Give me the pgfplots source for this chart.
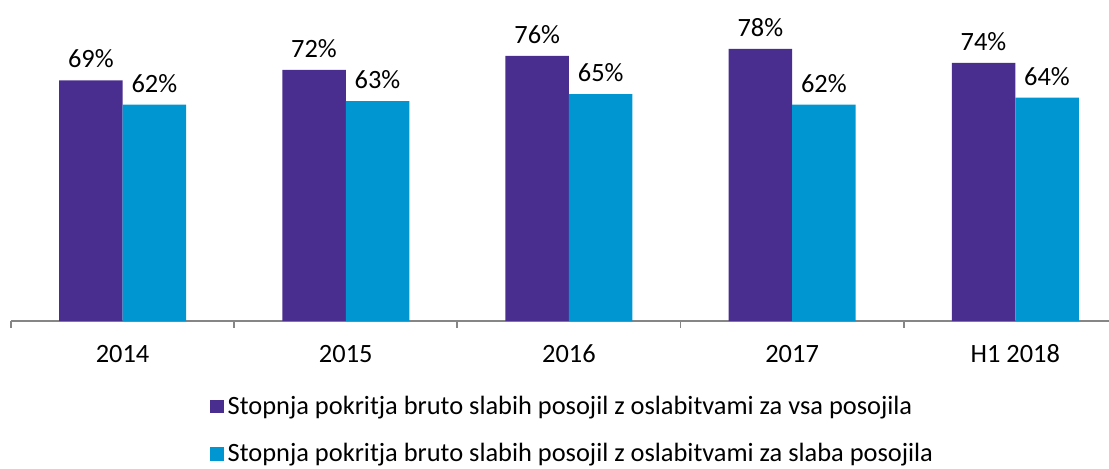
\documentclass[border=0pt]{standalone}
\usepackage{fontspec}
\setmainfont{Carlito}
\usepackage{pgfplots}
\pgfplotsset{compat=1.18}
\definecolor{barpurple}{RGB}{74,46,143}
\definecolor{barcyan}{RGB}{0,150,210}
\definecolor{axisgray}{RGB}{134,134,134}

\pgfplotstableread{
x all weak
0 69 62
1 72 63
2 76 65
3 78 62
4 74 64
}\coverage

\begin{document}
\begin{tikzpicture}
\begin{axis}[
  scale only axis,
  width=549pt, height=160.5pt,
  xmin=-0.5, xmax=4.42,
  ymin=0, ymax=92,
  hide y axis,
  axis x line*=bottom,
  axis line style={axisgray, line width=0.9pt},
  clip=false,
  ybar=0pt,
  bar width=31.75pt,
  xtick={0,1,2,3,4},
  xticklabels={2014,2015,2016,2017,H1 2018},
  major tick length=0pt,
  xticklabel style={font=\fontsize{13.2}{15}\selectfont, anchor=base, yshift=-20.5pt},
  extra x ticks={-0.5,0.5,1.5,2.5,3.5},
  extra x tick labels={},
  extra x tick style={major tick length=3.5pt, tick align=outside,
    tick style={axisgray, line width=0.9pt}},
  /pgf/number format/assume math mode=true,
  nodes near coords={\pgfmathprintnumber{\pgfplotspointmeta}\%},
  every node near coord/.append style={font=\fontsize{13.2}{15}\selectfont, black, yshift=2.5pt},
  legend style={draw=none, fill=none, at={(0.181,-0.22)}, anchor=north west,
    font=\fontsize{13.2}{15}\selectfont, row sep=9pt, inner sep=0pt},
  legend cell align=left,
  legend image code/.code={\fill[#1] (0pt,-3.3pt) rectangle (6.8pt,3.3pt);},
]
\addplot[fill=barpurple, draw=none] table[x=x, y=all] {\coverage};
\addplot[fill=barcyan, draw=none] table[x=x, y=weak] {\coverage};
\legend{Stopnja pokritja bruto slabih posojil z oslabitvami za vsa posojila,
        Stopnja pokritja bruto slabih posojil z oslabitvami za slaba posojila}
\end{axis}
\pgfresetboundingbox
\path[use as bounding box] (current axis.south west) ++(-5.5pt,-73.5pt) rectangle ++(554.5pt,234pt);
\end{tikzpicture}
\end{document}
